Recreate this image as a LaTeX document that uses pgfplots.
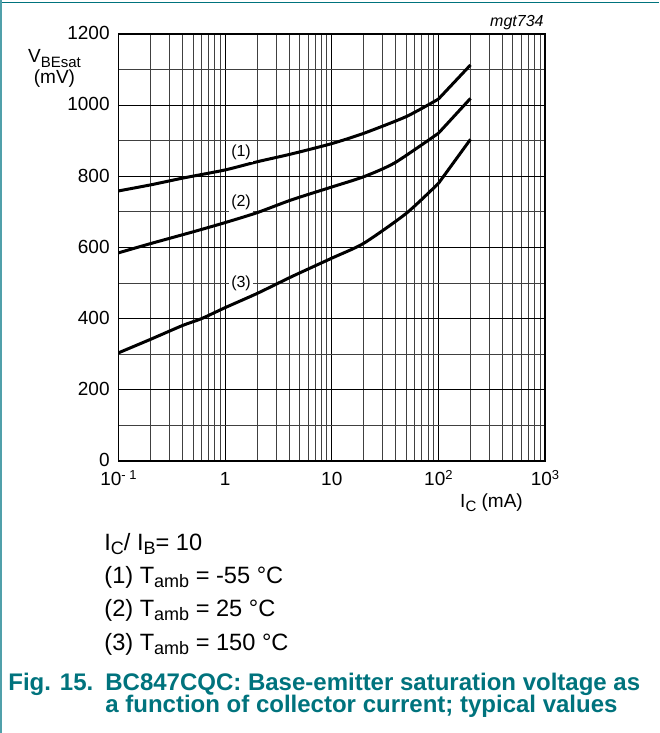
\documentclass[border=0pt]{standalone}
\usepackage{fontspec}
\setmainfont{Liberation Sans}
\usepackage{pgfplots}
\pgfplotsset{compat=1.18}
\definecolor{nxpteal}{RGB}{0,115,125}
\definecolor{frameteal}{RGB}{80,160,170}
\newcommand\sub[3]{\raisebox{-#1}{\fontsize{#2}{#2}\selectfont #3}}
\newcommand\sps[1]{\raisebox{0.3em}{\fontsize{6.5}{6.5}\selectfont #1}}
\begin{document}
\begin{tikzpicture}
\path[use as bounding box] (0,0) rectangle (329.5pt,-366.5pt);
\draw[nxpteal, line width=0.75pt] (0,-1.2pt) -- (329.5pt,-1.2pt);
\draw[frameteal, line width=0.75pt] (0.4pt,0) -- (0.4pt,-366.5pt);
\begin{axis}[
 at={(59.25pt,-230.5pt)}, anchor=south west,
 scale only axis, width=213.25pt, height=213.5pt,
 xmode=log, xmin=0.1, xmax=1000, ymin=0, ymax=1200,
 xtick={0.1,1,10,100,1000},
 xticklabels={10\sps{- 1},1,10,10\sps{2},10\sps{3}},
 minor xtick={0.2,0.3,0.4,0.5,0.6,0.7,0.8,0.9,2,3,4,5,6,7,8,9,20,30,40,50,60,70,80,90,200,300,400,500,600,700,800,900},
 ytick={0,200,400,600,800,1000,1200},
 yticklabels={0,200,400,600,800,1000,1200},
 minor ytick={100,300,500,700,900,1100},
 grid=both,
 major grid style={black, line width=0.5pt},
 minor grid style={black!75, line width=0.5pt},
 major tick length=0pt, minor tick length=0pt,
 axis line style={black, line width=0.6pt},
 tick label style={font=\fontsize{9.5}{11}\selectfont},
 yticklabel style={anchor=east, inner sep=0pt, xshift=-4.25pt, yshift=0.4pt},
 xticklabel style={anchor=base, inner sep=0pt, yshift=-12pt},
 /pgf/number format/assume math mode=true,
]
\addplot[black, line width=1.5pt, smooth, tension=0.4] coordinates {
 (0.1,759) (0.2,776) (0.4,795) (1,818) (2,841) (4.2,863) (10,892) (20,921) (50,968) (100,1017)};
\addplot[black, line width=1.5pt] coordinates {(100,1017) (200,1113)};
\addplot[black, line width=1.5pt, smooth, tension=0.4] coordinates {
 (0.1,585) (0.2,611) (0.5,644) (1,670) (2,698) (4.2,734) (10,770) (20,799) (39,838) (100,921)};
\addplot[black, line width=1.5pt] coordinates {(100,921) (200,1019)};
\addplot[black, line width=1.5pt, smooth, tension=0.4] coordinates {
 (0.1,304) (0.2,342) (0.4,381) (0.6,400) (1,431) (2,471) (4.2,518) (10,570) (20,612) (50,696) (100,780)};
\addplot[black, line width=1.5pt] coordinates {(100,780) (200,904)};
\node[font=\fontsize{8}{9}\selectfont, fill=white, inner sep=1pt] at (axis cs:1.41,866) {(1)};
\node[font=\fontsize{8}{9}\selectfont, fill=white, inner sep=1pt] at (axis cs:1.41,726) {(2)};
\node[font=\fontsize{8}{9}\selectfont, fill=white, inner sep=1pt] at (axis cs:1.41,500) {(3)};
\end{axis}
\node[anchor=base, inner sep=0pt, font=\fontsize{9.5}{11}\selectfont] at (27.25pt,-31.5pt) {V\sub{2pt}{7.5}{BEsat}};
\node[anchor=base, inner sep=0pt, font=\fontsize{9.5}{11}\selectfont] at (27.25pt,-42pt) {(mV)};
\node[anchor=base, inner sep=0pt, font=\fontsize{9.5}{11}\selectfont] at (245.75pt,-253.5pt) {I\sub{2pt}{7.5}{C} (mA)};
\node[anchor=base east, inner sep=0pt, font=\fontsize{8}{9}\itshape] at (272pt,-13.5pt) {mgt734};
\begin{scope}[every node/.style={anchor=base west, inner sep=0pt, font=\fontsize{11.8}{13}\selectfont}]
\node at (52pt,-275.25pt) {I\sub{2pt}{9}{C}/ I\sub{2pt}{9}{B}= 10};
\node at (52pt,-291.65pt) {(1) T\sub{2pt}{9}{amb} = -55 °C};
\node at (52pt,-308.35pt) {(2) T\sub{2pt}{9}{amb} = 25 °C};
\node at (52pt,-325pt) {(3) T\sub{2pt}{9}{amb} = 150 °C};
\end{scope}
\begin{scope}[every node/.style={anchor=base west, inner sep=0pt, text=nxpteal, font=\fontsize{12}{13}\bfseries}]
\node at (4pt,-345pt) {Fig. 15.};
\node at (52.5pt,-345pt) {BC847CQC: Base-emitter saturation voltage as};
\node at (52.5pt,-356.4pt) {a function of collector current; typical values};
\end{scope}
\end{tikzpicture}
\end{document}
